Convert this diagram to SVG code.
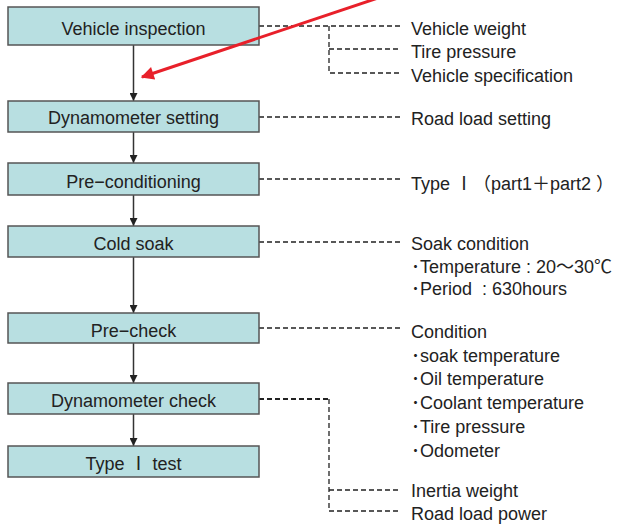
<svg xmlns="http://www.w3.org/2000/svg" width="619" height="525" viewBox="0 0 619 525">
<defs>
<style>
.box{fill:#b8dfe1;stroke:#555;stroke-width:1.5}
.bt{font-family:"Liberation Sans","Noto Sans CJK JP",sans-serif;font-size:18px;fill:#222;text-anchor:middle}
.rt{font-family:"Liberation Sans","Noto Sans CJK JP",sans-serif;font-size:18px;fill:#222}
.flow{stroke:#333;stroke-width:1.5;fill:none}
.dash{stroke:#222;stroke-width:1.3;fill:none;stroke-dasharray:5 3}
.dash2{stroke:#222;stroke-width:2;fill:none;stroke-dasharray:5 3}
</style>
<marker id="ah" viewBox="0 0 10 10" refX="10" refY="5" markerWidth="8" markerHeight="8" markerUnits="userSpaceOnUse" orient="auto">
<path d="M0,0 L10,5 L0,10 z" fill="#222"/>
</marker>
<marker id="rah" viewBox="0 0 10 10" refX="9" refY="5" markerWidth="18" markerHeight="13" markerUnits="userSpaceOnUse" orient="auto">
<path d="M0,0 L10,5 L0,10 z" fill="#e8202a"/>
</marker>
</defs>

<g id="connectors">
<line class="flow" x1="133.5" y1="45" x2="133.5" y2="101" marker-end="url(#ah)"/>
<line class="flow" x1="133.5" y1="132" x2="133.5" y2="163" marker-end="url(#ah)"/>
<line class="flow" x1="133.5" y1="195" x2="133.5" y2="226" marker-end="url(#ah)"/>
<line class="flow" x1="133.5" y1="257" x2="133.5" y2="313" marker-end="url(#ah)"/>
<line class="flow" x1="133.5" y1="343" x2="133.5" y2="383" marker-end="url(#ah)"/>
<line class="flow" x1="133.5" y1="414" x2="133.5" y2="446" marker-end="url(#ah)"/>

<path class="dash" d="M259,26 H400 M329,26 V73 H400 M329,49 H398"/>
<path class="dash" d="M259,117 H400"/>
<path class="dash" d="M259,179 H400"/>
<path class="dash" d="M259,242 H400"/>
<path class="dash" d="M259,328 H400"/>
<path class="dash2" d="M259,399 H329"/>
<path class="dash" d="M329,399 V511 H398 M329,490 H398"/>
</g>

<g id="n1"><rect class="box" x="8" y="7" width="251" height="38"/><text class="bt" x="133.5" y="35">Vehicle inspection</text></g>
<g id="n2"><rect class="box" x="8" y="101" width="251" height="31"/><text class="bt" x="133.5" y="124">Dynamometer setting</text></g>
<g id="n3"><rect class="box" x="8" y="163" width="251" height="32"/><text class="bt" x="133.5" y="188">Pre−conditioning</text></g>
<g id="n4"><rect class="box" x="8" y="226" width="251" height="31"/><text class="bt" x="133.5" y="250">Cold soak</text></g>
<g id="n5"><rect class="box" x="8" y="313" width="251" height="30"/><text class="bt" x="133.5" y="337">Pre−check</text></g>
<g id="n6"><rect class="box" x="8" y="383" width="251" height="31"/><text class="bt" x="133.5" y="407">Dynamometer check</text></g>
<g id="n7"><rect class="box" x="8" y="446" width="251" height="31"/><text class="bt" x="133.5" y="470">Type Ⅰ test</text></g>

<g id="labels">
<text class="rt" x="411" y="35">Vehicle weight</text>
<text class="rt" x="411" y="58">Tire pressure</text>
<text class="rt" x="411" y="82">Vehicle specification</text>
<text class="rt" x="411" y="125">Road load setting</text>
<text class="rt" x="411" y="190">Type Ⅰ（part1＋part2 ）</text>
<text class="rt" x="411" y="250">Soak condition</text>
<text class="rt" x="411" y="273">･Temperature : 20～30℃</text>
<text class="rt" x="411" y="295" xml:space="preserve">･Period  : 630hours</text>
<text class="rt" x="411" y="338">Condition</text>
<text class="rt" x="411" y="362">･soak temperature</text>
<text class="rt" x="411" y="385">･Oil temperature</text>
<text class="rt" x="411" y="409">･Coolant temperature</text>
<text class="rt" x="411" y="433">･Tire pressure</text>
<text class="rt" x="411" y="457">･Odometer</text>
<text class="rt" x="411" y="497">Inertia weight</text>
<text class="rt" x="411" y="520">Road load power</text>
</g>

<g id="red-arrow">
<line x1="378" y1="-2" x2="142" y2="77" stroke="#e8202a" stroke-width="3" marker-end="url(#rah)"/>
</g>
</svg>
